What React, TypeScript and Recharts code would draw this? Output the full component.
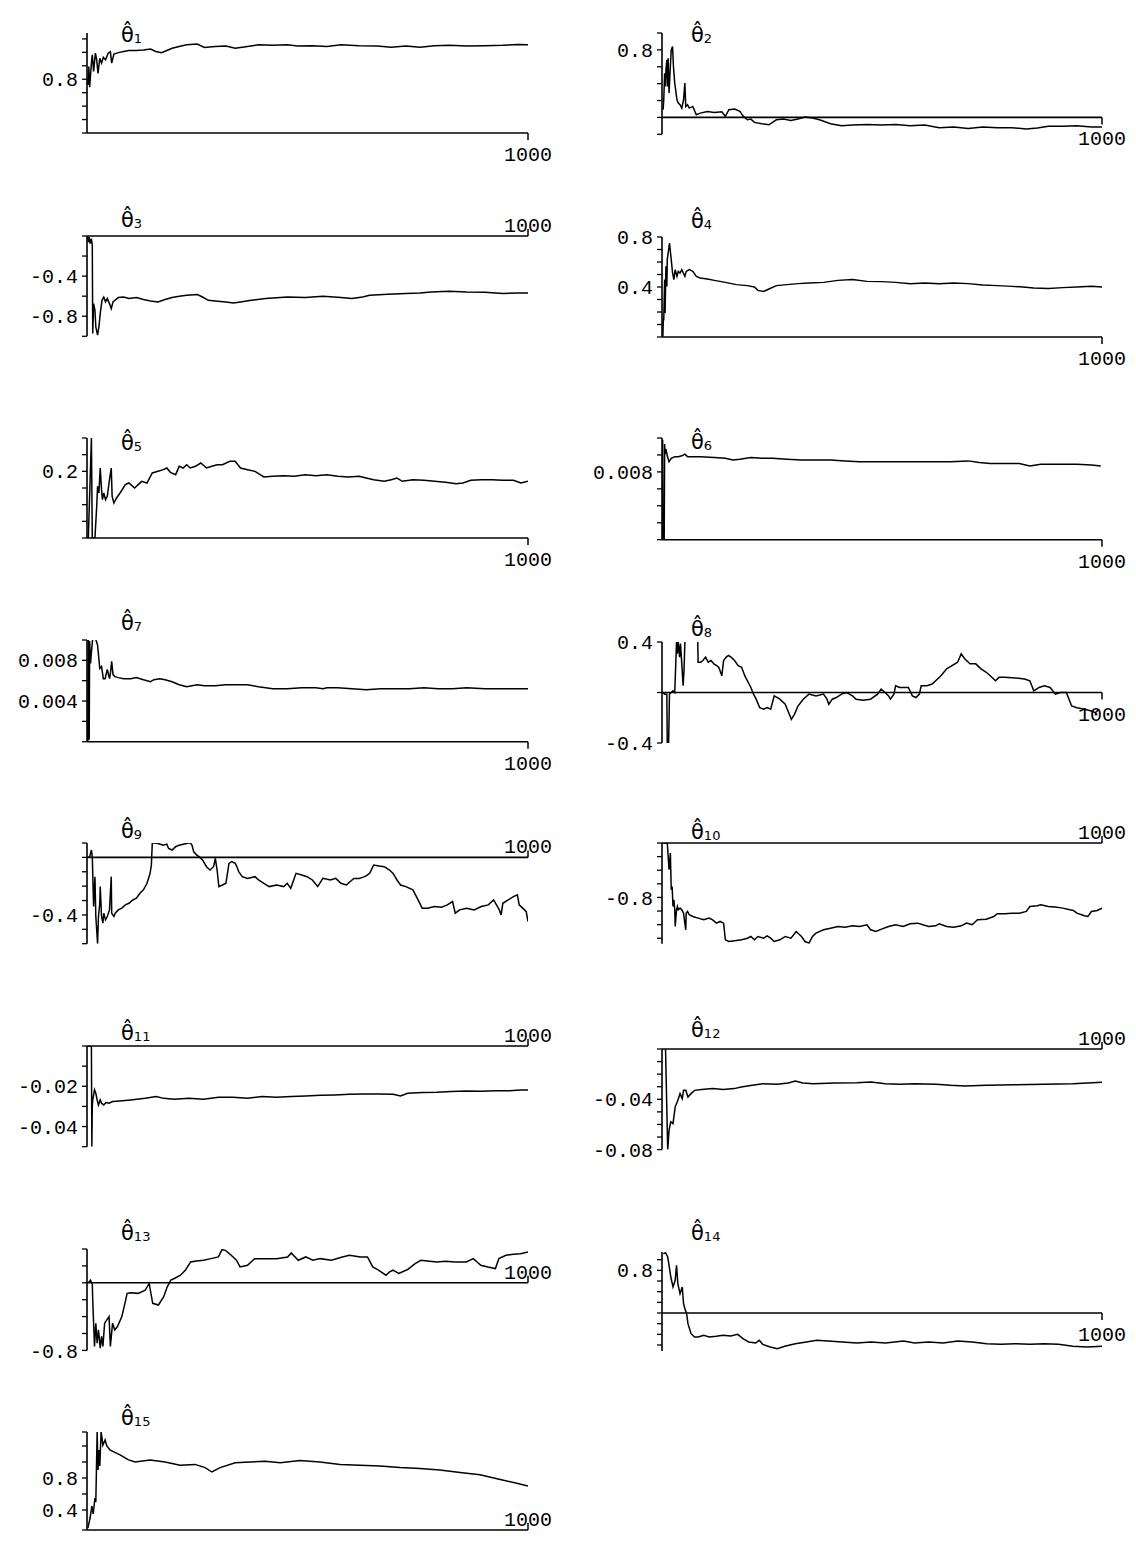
import React from 'react';
import { LineChart, Line, XAxis, YAxis, ReferenceLine } from 'recharts';

type Pt = [number, number];

// ---------- data (x = iteration 0..1000, y = estimate) ----------
const theta1: Pt[] = [[2,0.779],[4,0.847],[6,0.770],[10,0.860],[12,0.891],[15,0.829],[19,0.897],[22,0.872],[25,0.822],[29,0.878],[33,0.860],[37,0.882],[42,0.872],[48,0.897],[53,0.903],[56,0.860],[61,0.894],[71,0.899],[83,0.903],[95,0.907],[112,0.907],[128,0.909],[144,0.912],[156,0.903],[169,0.899],[181,0.907],[193,0.915],[209,0.922],[226,0.928],[250,0.931],[266,0.918],[291,0.922],[315,0.924],[336,0.915],[364,0.922],[389,0.928],[421,0.926],[454,0.928],[478,0.924],[511,0.925],[544,0.922],[576,0.928],[617,0.925],[658,0.924],[690,0.919],[723,0.924],[755,0.919],[788,0.925],[821,0.926],[861,0.924],[902,0.925],[943,0.926],[976,0.929],[1000,0.928]];

const theta2: Pt[] = [[2.5,0.091],[4,0.209],[6,0.524],[7,0.366],[9,0.563],[11,0.682],[12,0.366],[14,0.701],[16,0.288],[19,0.603],[21,0.800],[24,0.839],[26,0.603],[29,0.406],[31,0.327],[34,0.209],[37,0.169],[41,0.150],[45,0.110],[49,0.209],[52,0.406],[54,0.130],[58,0.150],[62,0.110],[70,0.130],[78,0.032],[87,0.051],[103,0.071],[119,0.059],[136,0.067],[144,0.012],[152,0.091],[165,0.099],[177,0.071],[185,0.012],[194,-0.028],[202,-0.020],[210,-0.059],[227,-0.075],[243,-0.087],[260,-0.028],[276,-0.020],[293,-0.035],[309,-0.020],[325,0.004],[342,-0.008],[358,-0.028],[383,-0.075],[408,-0.099],[433,-0.091],[466,-0.083],[499,-0.091],[531,-0.083],[564,-0.099],[597,-0.091],[630,-0.122],[663,-0.114],[696,-0.130],[729,-0.114],[762,-0.122],[795,-0.122],[828,-0.138],[853,-0.126],[878,-0.106],[911,-0.106],[943,-0.099],[976,-0.114],[1000,-0.114]];

const theta3: Pt[] = [[1,0],[3,-0.06],[5,-0.01],[7,-0.076],[10,-0.027],[12,-0.093],[13,-0.973],[15,-0.674],[18,-0.740],[20,-0.906],[24,-0.989],[27,-0.906],[30,-0.774],[34,-0.641],[38,-0.608],[42,-0.657],[46,-0.624],[51,-0.674],[55,-0.724],[59,-0.657],[63,-0.641],[71,-0.614],[83,-0.608],[95,-0.624],[112,-0.614],[128,-0.634],[144,-0.647],[161,-0.657],[177,-0.634],[193,-0.614],[209,-0.601],[226,-0.591],[250,-0.584],[262,-0.608],[275,-0.641],[291,-0.647],[315,-0.657],[332,-0.667],[348,-0.657],[372,-0.641],[405,-0.624],[438,-0.614],[454,-0.608],[495,-0.614],[535,-0.601],[576,-0.614],[601,-0.624],[625,-0.608],[641,-0.591],[682,-0.581],[723,-0.574],[755,-0.568],[780,-0.558],[821,-0.551],[861,-0.558],[902,-0.561],[943,-0.574],[976,-0.568],[1000,-0.568]];

const theta4: Pt[] = [[2,0.005],[3,0.139],[4,0.139],[6,0.459],[7,0.192],[9,0.565],[11,0.405],[12,0.619],[14,0.672],[17,0.752],[21,0.619],[24,0.512],[27,0.459],[30,0.539],[34,0.485],[37,0.525],[41,0.512],[45,0.539],[52,0.485],[55,0.525],[62,0.539],[70,0.525],[78,0.485],[87,0.472],[103,0.464],[119,0.453],[144,0.437],[169,0.419],[194,0.411],[210,0.400],[218,0.373],[231,0.365],[243,0.384],[260,0.411],[284,0.419],[309,0.427],[334,0.432],[367,0.437],[400,0.453],[433,0.459],[466,0.445],[499,0.443],[531,0.437],[564,0.427],[597,0.432],[630,0.427],[663,0.432],[696,0.427],[729,0.416],[762,0.411],[795,0.405],[820,0.400],[845,0.392],[878,0.389],[911,0.395],[943,0.400],[976,0.405],[1000,0.400]];

const theta5: Pt[] = [[3,0],[10,0.3],[12,0],[18,0],[22,0.095],[24,0.155],[27,0.135],[30,0.21],[33,0.145],[35,0.115],[38,0.135],[42,0.115],[46,0.125],[51,0.175],[55,0.21],[57,0.125],[61,0.105],[67,0.12],[75,0.135],[87,0.16],[95,0.165],[108,0.15],[116,0.16],[124,0.17],[136,0.165],[148,0.195],[161,0.2],[173,0.205],[181,0.21],[189,0.197],[201,0.19],[209,0.215],[218,0.21],[226,0.22],[234,0.21],[246,0.215],[258,0.225],[271,0.21],[283,0.215],[295,0.22],[307,0.22],[324,0.23],[336,0.23],[348,0.21],[364,0.205],[381,0.2],[401,0.183],[421,0.185],[446,0.187],[470,0.185],[495,0.19],[519,0.187],[544,0.19],[568,0.185],[593,0.183],[617,0.185],[633,0.18],[650,0.175],[674,0.17],[690,0.175],[703,0.18],[715,0.17],[739,0.175],[764,0.173],[788,0.17],[813,0.167],[837,0.163],[853,0.165],[870,0.173],[894,0.175],[918,0.175],[943,0.173],[967,0.173],[984,0.165],[1000,0.17]];

const theta6: Pt[] = [[1,0.0002],[1.5,0.0118],[2,0.0003],[5,0.0001],[6,0.0113],[7,0.0101],[9,0.0107],[12,0.0099],[16,0.0092],[21,0.0096],[29,0.0098],[37,0.0098],[45,0.0099],[52,0.0101],[58,0.0098],[70,0.0098],[87,0.0098],[119,0.0097],[144,0.0096],[161,0.0094],[177,0.0095],[202,0.0097],[227,0.0096],[251,0.0096],[284,0.0095],[317,0.0094],[350,0.0094],[383,0.0094],[416,0.0093],[449,0.0092],[490,0.0092],[531,0.0092],[573,0.0092],[614,0.0092],[655,0.0092],[696,0.0093],[721,0.0091],[746,0.009],[779,0.009],[812,0.009],[836,0.0087],[861,0.0089],[902,0.0089],[943,0.0089],[976,0.0088],[997,0.0087]];

const theta7: Pt[] = [[2,0],[3,0.01],[5,0.0002],[6,0.0099],[8,0.0077],[10,0.0088],[13,0.0102],[18,0.0103],[24,0.0095],[29,0.0072],[33,0.0074],[37,0.0062],[41,0.0062],[46,0.0071],[51,0.0062],[53,0.0067],[56,0.0079],[59,0.0066],[63,0.0064],[71,0.0063],[83,0.0062],[99,0.0062],[112,0.0063],[128,0.0061],[144,0.0059],[152,0.0061],[165,0.0062],[177,0.0061],[193,0.0059],[209,0.0056],[226,0.0054],[238,0.0055],[250,0.0056],[266,0.0055],[291,0.0055],[315,0.0056],[340,0.0056],[364,0.0056],[389,0.0054],[421,0.0052],[454,0.0052],[487,0.0053],[519,0.0053],[535,0.0052],[544,0.0053],[568,0.0053],[601,0.0052],[633,0.0051],[666,0.0052],[698,0.0052],[731,0.0052],[764,0.0053],[796,0.0052],[829,0.0052],[861,0.0053],[902,0.0052],[943,0.0052],[976,0.0052],[1000,0.0052]];

const theta8: Pt[] = [[2,0],[6,-0.013],[11,-0.013],[12,-0.413],[15,-0.413],[17,-0.013],[21,0],[25,0.013],[29,0],[33,0.4],[35,0.307],[37,0.4],[40,0.28],[42,0.387],[45,0.227],[48,0.053],[50,0.173],[52,0.4],[54,0.47],[68,0.5],[81,0.46],[82,0.24],[88,0.24],[93,0.253],[99,0.28],[105,0.24],[111,0.253],[118,0.227],[124,0.213],[129,0.2],[136,0.133],[140,0.253],[146,0.28],[151,0.293],[157,0.28],[165,0.253],[173,0.213],[181,0.2],[188,0.133],[194,0.093],[202,0.04],[208,-0.013],[214,-0.053],[222,-0.12],[231,-0.133],[239,-0.12],[247,-0.133],[255,-0.027],[268,-0.053],[280,-0.093],[288,-0.16],[294,-0.213],[301,-0.173],[309,-0.107],[321,-0.053],[334,-0.013],[350,-0.027],[367,-0.013],[375,-0.053],[379,-0.093],[387,-0.053],[396,-0.04],[408,-0.013],[420,0],[433,-0.027],[441,-0.053],[457,-0.061],[474,-0.053],[490,-0.013],[498,0.027],[507,0],[515,-0.027],[519,-0.053],[527,-0.013],[531,0.053],[540,0.04],[548,0.04],[560,0.04],[569,-0.027],[577,-0.04],[585,-0.013],[589,0.053],[602,0.053],[614,0.067],[622,0.093],[634,0.133],[647,0.187],[659,0.213],[672,0.24],[680,0.307],[688,0.267],[700,0.227],[713,0.227],[725,0.187],[737,0.16],[746,0.133],[758,0.093],[766,0.12],[779,0.12],[803,0.115],[824,0.107],[836,0.093],[845,0.013],[857,0.04],[869,0.053],[882,0.04],[894,-0.013],[906,0],[919,0],[931,-0.107],[943,-0.12],[960,-0.133],[976,-0.147],[985,-0.16],[993,-0.133]];

const theta9: Pt[] = [[2,0],[6,0.005],[10,0.051],[12,0.005],[15,-0.342],[18,-0.134],[20,-0.411],[24,-0.6],[26,-0.411],[29,-0.319],[30,-0.203],[33,-0.411],[36,-0.457],[38,-0.388],[42,-0.434],[46,-0.411],[51,-0.365],[55,-0.134],[56,-0.388],[61,-0.411],[64,-0.388],[71,-0.365],[79,-0.353],[87,-0.330],[95,-0.319],[104,-0.296],[112,-0.284],[120,-0.249],[128,-0.226],[136,-0.180],[143,-0.111],[146,-0.053],[148,0.097],[152,0.102],[161,0.097],[173,0.085],[181,0.092],[185,0.062],[193,0.051],[201,0.074],[209,0.085],[218,0.092],[226,0.097],[234,0.102],[238,0.085],[242,0.039],[249,0.016],[254,0.005],[262,-0.018],[271,-0.065],[279,-0.088],[287,-0.065],[291,-0.007],[295,-0.088],[299,-0.203],[307,-0.192],[315,-0.180],[322,-0.042],[328,-0.030],[336,-0.042],[340,-0.065],[344,-0.099],[352,-0.134],[364,-0.146],[381,-0.134],[389,-0.157],[401,-0.180],[413,-0.203],[430,-0.192],[446,-0.203],[454,-0.180],[462,-0.215],[474,-0.111],[487,-0.122],[499,-0.134],[511,-0.157],[523,-0.203],[535,-0.146],[552,-0.157],[564,-0.146],[576,-0.180],[588,-0.192],[605,-0.146],[617,-0.146],[625,-0.139],[633,-0.129],[641,-0.111],[650,-0.053],[662,-0.060],[674,-0.065],[686,-0.088],[694,-0.111],[703,-0.157],[711,-0.192],[723,-0.203],[739,-0.226],[747,-0.273],[760,-0.353],[772,-0.353],[788,-0.342],[804,-0.347],[817,-0.330],[829,-0.307],[835,-0.388],[845,-0.365],[861,-0.353],[878,-0.365],[894,-0.342],[910,-0.330],[922,-0.296],[935,-0.365],[939,-0.400],[943,-0.319],[955,-0.296],[967,-0.273],[976,-0.261],[980,-0.330],[988,-0.353],[996,-0.377],[1000,-0.446]];

const theta10: Pt[] = [[2,0],[12,0],[14,-0.196],[16,-0.393],[19,-0.147],[21,-0.687],[23,-0.638],[25,-0.933],[27,-0.834],[29,-0.982],[30,-1.227],[33,-0.982],[35,-0.933],[37,-0.982],[41,-0.957],[45,-0.982],[49,-1.031],[54,-1.276],[55,-1.031],[58,-1.006],[62,-1.055],[70,-1.080],[82,-1.104],[95,-1.129],[107,-1.104],[115,-1.129],[124,-1.178],[132,-1.153],[140,-1.178],[144,-1.423],[152,-1.448],[169,-1.433],[181,-1.423],[194,-1.399],[202,-1.374],[210,-1.423],[218,-1.374],[231,-1.399],[239,-1.364],[247,-1.399],[255,-1.448],[268,-1.423],[280,-1.374],[293,-1.399],[305,-1.301],[317,-1.374],[325,-1.448],[334,-1.472],[342,-1.374],[350,-1.325],[367,-1.276],[383,-1.252],[400,-1.227],[416,-1.237],[433,-1.217],[449,-1.227],[466,-1.202],[474,-1.276],[486,-1.301],[499,-1.266],[515,-1.227],[531,-1.202],[548,-1.227],[564,-1.188],[581,-1.178],[593,-1.202],[606,-1.227],[622,-1.217],[630,-1.188],[647,-1.227],[663,-1.237],[680,-1.217],[692,-1.178],[705,-1.202],[717,-1.129],[737,-1.119],[754,-1.080],[762,-1.040],[779,-1.040],[795,-1.031],[812,-1.031],[828,-1.006],[836,-0.933],[853,-0.923],[861,-0.908],[878,-0.933],[894,-0.942],[911,-0.957],[927,-0.982],[935,-0.991],[943,-1.031],[960,-1.070],[968,-1.080],[976,-1.006],[989,-0.991],[1000,-0.957]];

const theta11: Pt[] = [[1,0],[10,0],[11,-0.05],[12,-0.03],[13,-0.0268],[17,-0.0218],[20,-0.0235],[23,-0.0268],[26,-0.0293],[30,-0.0268],[33,-0.0284],[38,-0.0293],[43,-0.0281],[50,-0.0284],[58,-0.0276],[74,-0.0273],[99,-0.0268],[132,-0.026],[157,-0.0251],[174,-0.026],[198,-0.0264],[231,-0.026],[264,-0.0264],[298,-0.0255],[331,-0.0255],[364,-0.026],[397,-0.0251],[430,-0.0255],[463,-0.0251],[496,-0.0248],[529,-0.0245],[562,-0.0243],[595,-0.024],[628,-0.0238],[661,-0.0238],[694,-0.024],[711,-0.0248],[727,-0.0235],[760,-0.0231],[793,-0.023],[826,-0.0226],[860,-0.0223],[893,-0.0225],[926,-0.0222],[959,-0.0222],[983,-0.0218],[1000,-0.0218]];

const theta12: Pt[] = [[8,0],[13,-0.08],[16,-0.0647],[20,-0.058],[25,-0.0594],[30,-0.0461],[36,-0.0408],[41,-0.0355],[46,-0.0395],[49,-0.0329],[54,-0.0329],[59,-0.0382],[66,-0.0355],[74,-0.0329],[90,-0.0323],[115,-0.0315],[139,-0.0323],[164,-0.0315],[180,-0.0302],[205,-0.0289],[229,-0.0276],[262,-0.0281],[287,-0.027],[303,-0.0254],[320,-0.027],[344,-0.0276],[393,-0.027],[443,-0.0268],[475,-0.0262],[508,-0.0276],[541,-0.0281],[574,-0.0276],[623,-0.0281],[656,-0.0289],[688,-0.0294],[738,-0.0289],[803,-0.0284],[869,-0.0281],[934,-0.0276],[967,-0.027],[1000,-0.0265]];

const theta13: Pt[] = [[3,0],[8,0.031],[12,-0.016],[13,-0.204],[17,-0.753],[20,-0.478],[23,-0.714],[26,-0.557],[30,-0.773],[33,-0.635],[36,-0.753],[40,-0.478],[45,-0.439],[50,-0.400],[53,-0.753],[58,-0.478],[63,-0.557],[69,-0.518],[79,-0.400],[86,-0.243],[91,-0.125],[99,-0.118],[116,-0.125],[132,-0.086],[141,-0.008],[149,-0.243],[162,-0.263],[174,-0.165],[182,-0.047],[190,0.031],[198,0.051],[212,0.090],[223,0.149],[235,0.247],[248,0.259],[264,0.267],[281,0.286],[298,0.306],[306,0.392],[314,0.384],[327,0.326],[339,0.267],[347,0.188],[364,0.208],[380,0.286],[405,0.286],[430,0.286],[455,0.306],[463,0.353],[479,0.267],[496,0.306],[512,0.267],[529,0.286],[554,0.267],[579,0.306],[595,0.326],[620,0.306],[636,0.306],[648,0.188],[661,0.149],[678,0.090],[686,0.129],[694,0.149],[707,0.110],[727,0.157],[744,0.227],[757,0.267],[777,0.255],[793,0.247],[813,0.255],[835,0.247],[860,0.247],[876,0.286],[893,0.208],[909,0.188],[926,0.169],[934,0.286],[950,0.326],[967,0.337],[983,0.345],[1000,0.365]];

const theta14: Pt[] = [[3,1.113],[8,1.13],[13,1.05],[16,0.894],[20,0.675],[25,0.488],[30,0.613],[33,0.894],[36,0.55],[41,0.363],[46,0.488],[49,0.175],[52,0.081],[56,-0.013],[59,-0.2],[66,-0.388],[74,-0.45],[82,-0.45],[95,-0.419],[107,-0.45],[123,-0.438],[139,-0.419],[156,-0.431],[172,-0.4],[184,-0.481],[197,-0.544],[213,-0.563],[221,-0.513],[229,-0.588],[246,-0.638],[262,-0.669],[279,-0.625],[303,-0.575],[328,-0.544],[352,-0.513],[377,-0.525],[410,-0.544],[443,-0.563],[475,-0.544],[508,-0.563],[549,-0.525],[574,-0.563],[606,-0.544],[639,-0.563],[672,-0.525],[705,-0.544],[738,-0.575],[770,-0.588],[803,-0.575],[836,-0.588],[869,-0.575],[901,-0.588],[934,-0.625],[967,-0.638],[1000,-0.625]];

const theta15: Pt[] = [[2,0.175],[7,0.3],[11,0.45],[14,0.35],[18,0.55],[20,0.5],[23,1.375],[25,0.9],[27,1.15],[29,0.95],[32,1.375],[34,1.3],[36,1.21],[41,1.275],[45,1.2],[52,1.15],[63,1.12],[75,1.09],[93,1.03],[109,1.0],[143,1.025],[177,1.0],[211,0.96],[245,0.97],[268,0.93],[283,0.875],[302,0.93],[336,0.99],[370,1.0],[404,1.01],[438,0.99],[483,1.02],[528,1.0],[574,0.97],[619,0.96],[664,0.95],[710,0.93],[755,0.92],[800,0.9],[846,0.87],[891,0.84],[937,0.78],[970,0.74],[1000,0.7]];

// ---------- y tick positions and labelled ticks ----------
const ticks1 = [0.6, 0.65, 0.7, 0.75, 0.8, 0.85, 0.9, 0.95];
const labels1 = [0.8];
const ticks2 = [-0.2, 0, 0.2, 0.4, 0.6, 0.8, 1.0];
const labels2 = [0.8];
const ticks3 = [-1.0, -0.8, -0.6, -0.4, -0.2, 0];
const labels3 = [-0.4, -0.8];
const ticks4 = [0, 0.1, 0.2, 0.3, 0.4, 0.5, 0.6, 0.7, 0.8];
const labels4 = [0.4, 0.8];
const ticks5 = [0, 0.05, 0.1, 0.15, 0.2, 0.25, 0.3];
const labels5 = [0.2];
const ticks6 = [0, 0.002, 0.004, 0.006, 0.008, 0.01, 0.012];
const labels6 = [0.008];
const ticks7 = [0, 0.002, 0.004, 0.006, 0.008, 0.01];
const labels7 = [0.004, 0.008];
const ticks8 = [-0.4, 0, 0.4];
const labels8 = [-0.4, 0.4];
const ticks9 = [-0.6, -0.5, -0.4, -0.3, -0.2, -0.1, 0, 0.1];
const labels9 = [-0.4];
const ticks10 = [-1.4, -1.2, -1.0, -0.8, -0.6, -0.4, -0.2, 0];
const labels10 = [-0.8];
const ticks11 = [-0.05, -0.04, -0.03, -0.02, -0.01, 0];
const labels11 = [-0.02, -0.04];
const ticks12 = [-0.08, -0.07, -0.06, -0.05, -0.04, -0.03, -0.02, -0.01, 0];
const labels12 = [-0.04, -0.08];
const ticks13 = [-0.8, -0.6, -0.4, -0.2, 0, 0.2, 0.4];
const labels13 = [-0.8];
const ticks14 = [-0.6, -0.4, -0.2, 0, 0.2, 0.4, 0.6, 0.8, 1.0];
const labels14 = [0.8];
const ticks15 = [0.15, 0.4, 0.6, 0.8, 1.0, 1.2, 1.375];
const labels15 = [0.4, 0.8];

const xEnd = 1000;

// ---------- layout ----------
type Side = 'above' | 'below';
interface PanelCfg {
  n: number; data: Pt[]; domain: [number, number]; ticks: number[]; labels: number[];
  origin: number; side: Side; col: 0 | 1; top: number; height: number; titleY: number;
}

const panels: PanelCfg[] = [
  { n: 1, data: theta1, domain: [0.6, 0.972], ticks: ticks1, labels: labels1, origin: 0.6, side: 'below', col: 0, top: 33.3, height: 100, titleY: 42 },
  { n: 2, data: theta2, domain: [-0.2, 1.0], ticks: ticks2, labels: labels2, origin: 0, side: 'below', col: 1, top: 33.3, height: 101.3, titleY: 42 },
  { n: 3, data: theta3, domain: [-1.0, 0], ticks: ticks3, labels: labels3, origin: 0, side: 'above', col: 0, top: 235.7, height: 100.3, titleY: 227 },
  { n: 4, data: theta4, domain: [0, 0.8], ticks: ticks4, labels: labels4, origin: 0, side: 'below', col: 1, top: 237.3, height: 100, titleY: 228 },
  { n: 5, data: theta5, domain: [0, 0.3], ticks: ticks5, labels: labels5, origin: 0, side: 'below', col: 0, top: 438.3, height: 100, titleY: 450 },
  { n: 6, data: theta6, domain: [0, 0.012], ticks: ticks6, labels: labels6, origin: 0, side: 'below', col: 1, top: 438.3, height: 101.7, titleY: 449 },
  { n: 7, data: theta7, domain: [0, 0.01], ticks: ticks7, labels: labels7, origin: 0, side: 'below', col: 0, top: 640, height: 101.7, titleY: 630 },
  { n: 8, data: theta8, domain: [-0.4, 0.4], ticks: ticks8, labels: labels8, origin: 0, side: 'below', col: 1, top: 641.7, height: 101, titleY: 636 },
  { n: 9, data: theta9, domain: [-0.6, 0.1], ticks: ticks9, labels: labels9, origin: 0, side: 'above', col: 0, top: 843.3, height: 100.7, titleY: 838 },
  { n: 10, data: theta10, domain: [-1.48, 0], ticks: ticks10, labels: labels10, origin: 0, side: 'above', col: 1, top: 843.3, height: 100.7, titleY: 839 },
  { n: 11, data: theta11, domain: [-0.05, 0], ticks: ticks11, labels: labels11, origin: 0, side: 'above', col: 0, top: 1046, height: 100.7, titleY: 1040 },
  { n: 12, data: theta12, domain: [-0.08, 0], ticks: ticks12, labels: labels12, origin: 0, side: 'above', col: 1, top: 1048.7, height: 100.6, titleY: 1037 },
  { n: 13, data: theta13, domain: [-0.8, 0.4], ticks: ticks13, labels: labels13, origin: 0, side: 'above', col: 0, top: 1249.3, height: 101.4, titleY: 1240 },
  { n: 14, data: theta14, domain: [-0.7125, 1.144], ticks: ticks14, labels: labels14, origin: 0, side: 'below', col: 1, top: 1251.7, height: 99, titleY: 1240 },
  { n: 15, data: theta15, domain: [0.15, 1.375], ticks: ticks15, labels: labels15, origin: 0.15, side: 'above', col: 0, top: 1432, height: 98, titleY: 1425 },
];

const COL_LEFT = [87, 662];
const COL_WIDTH = [441, 440];
const AXIS_W = 80;
const M_TOP = 20;
const M_RIGHT = 50;
const M_BOTTOM = 40;
const MONO = '"Liberation Mono", "DejaVu Sans Mono", monospace';

function EndLabel(props: any) {
  const { viewBox, side } = props;
  if (!viewBox) return null;
  const x = viewBox.x + viewBox.width;
  const y = viewBox.y;
  const below = side === 'below';
  return (
    <g>
      <line x1={x} x2={x} y1={y} y2={below ? y + 7 : y - 7} stroke="#000" strokeWidth={1.5} />
      <text x={x} y={below ? y + 28 : y - 4} textAnchor="middle" fontFamily={MONO} fontSize={20} fill="#000">
        {xEnd}
      </text>
    </g>
  );
}

function Panel({ cfg }: { cfg: PanelCfg }) {
  const pl = COL_LEFT[cfg.col];
  const pw = COL_WIDTH[cfg.col];
  const rows = cfg.data.map(([x, y]) => ({ x, y }));
  const width = AXIS_W + pw + M_RIGHT;
  const height = Math.round(M_TOP + cfg.height + M_BOTTOM);
  const fmt = (v: number) => (cfg.labels.some((l) => Math.abs(l - v) < 1e-9) ? String(v) : '');
  return (
    <div style={{ position: 'absolute', left: pl - AXIS_W, top: cfg.top - M_TOP }}>
      <LineChart width={width} height={height} data={rows} margin={{ top: M_TOP, right: M_RIGHT, bottom: height - M_TOP - cfg.height, left: 0 }}>
        <XAxis dataKey="x" type="number" domain={[0, xEnd]} hide allowDataOverflow />
        <YAxis
          type="number"
          domain={cfg.domain}
          ticks={cfg.ticks}
          interval={0}
          width={AXIS_W}
          allowDataOverflow
          tickSize={5}
          tickMargin={4}
          tickFormatter={fmt}
          tick={{ fontFamily: MONO, fontSize: 20, fill: '#000' }}
          axisLine={{ stroke: '#000', strokeWidth: 1.6 }}
          tickLine={{ stroke: '#000', strokeWidth: 1.3 }}
        />
        <ReferenceLine
          y={cfg.origin}
          stroke="#000"
          strokeWidth={1.6}
          label={(p: any) => <EndLabel {...p} side={cfg.side} />}
        />
        <Line dataKey="y" type="linear" stroke="#000" strokeWidth={1.5} dot={false} isAnimationActive={false} />
      </LineChart>
    </div>
  );
}

export default function App() {
  return (
    <div style={{ position: 'absolute', left: 0, top: 0, width: 1136, height: 1558, background: '#fff', overflow: 'hidden' }}>
      {panels.map((p) => (
        <Panel key={p.n} cfg={p} />
      ))}
      <svg width={1136} height={1558} style={{ position: 'absolute', left: 0, top: 0, pointerEvents: 'none' }}>
        {panels.map((p) => (
          <text key={p.n} x={p.col === 0 ? 121 : 691} y={p.titleY} fontFamily='"DejaVu Sans", sans-serif' fontSize={21} fill="#000">
            {'θ\u0302'}
            <tspan fontSize={13} dy={1}>{p.n}</tspan>
          </text>
        ))}
      </svg>
    </div>
  );
}
